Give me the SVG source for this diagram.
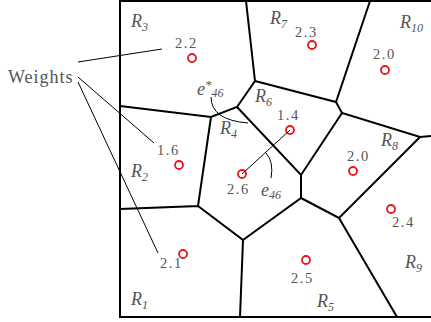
<svg xmlns="http://www.w3.org/2000/svg" width="431" height="322" viewBox="0 0 431 322">
<style>
.edge{fill:none;stroke:#000;stroke-width:2;stroke-linejoin:miter}
.seed{fill:none;stroke:#e8141e;stroke-width:1.8}
.w{font-family:"Liberation Serif",serif;font-size:14.5px;fill:#555;letter-spacing:1.5px}
.r{font-family:"Liberation Serif",serif;font-style:italic;font-size:18px;fill:#555}
.sub{font-size:12px}
.lead{fill:none;stroke:#000;stroke-width:1}
</style>
<rect width="431" height="322" fill="#fff"/>
<g id="edges">
<path class="edge" d="M431,1 H120 V317 H431"/>
<path class="edge" d="M120,106 L211,117 L237,107 L255,81 L246,1 M255,81 L336,102 L370,1 M336,102 L342,113 L420,137 L431,136 M342,113 L301,175 L237,107 M211,117 L198,206 L120,209 M198,206 L243,240 L240,317 M243,240 L301,198 L301,175 M301,198 L339,218 L420,137 M339,218 L397,317"/>
</g>
<g id="R1"><text class="r" x="131" y="305">R<tspan class="sub" dy="4">1</tspan></text><circle class="seed" cx="183" cy="254" r="4"/><text class="w" x="160" y="268">2.1</text></g>
<g id="R2"><text class="r" x="131" y="177">R<tspan class="sub" dy="4">2</tspan></text><circle class="seed" cx="179" cy="165" r="4"/><text class="w" x="157" y="155">1.6</text></g>
<g id="R3"><text class="r" x="131" y="27">R<tspan class="sub" dy="4">3</tspan></text><circle class="seed" cx="192" cy="58" r="4"/><text class="w" x="175" y="48">2.2</text></g>
<g id="R4"><text class="r" x="220" y="134">R<tspan class="sub" dy="4">4</tspan></text><circle class="seed" cx="242" cy="174" r="4"/><text class="w" x="227" y="194">2.6</text></g>
<g id="R5"><text class="r" x="317" y="307">R<tspan class="sub" dy="4">5</tspan></text><circle class="seed" cx="306" cy="260" r="4"/><text class="w" x="291" y="283">2.5</text></g>
<g id="R6"><text class="r" x="255" y="102">R<tspan class="sub" dy="4">6</tspan></text><circle class="seed" cx="290" cy="130" r="4"/><text class="w" x="277" y="120">1.4</text></g>
<g id="R7"><text class="r" x="270" y="24">R<tspan class="sub" dy="4">7</tspan></text><circle class="seed" cx="312" cy="45" r="4"/><text class="w" x="295" y="37">2.3</text></g>
<g id="R8"><text class="r" x="381" y="146">R<tspan class="sub" dy="4">8</tspan></text><circle class="seed" cx="353" cy="171" r="4"/><text class="w" x="347" y="161">2.0</text></g>
<g id="R9"><text class="r" x="405" y="268">R<tspan class="sub" dy="4">9</tspan></text><circle class="seed" cx="391" cy="209" r="4"/><text class="w" x="392" y="227">2.4</text></g>
<g id="R10"><text class="r" x="400" y="28">R<tspan class="sub" dy="4">10</tspan></text><circle class="seed" cx="385" cy="70" r="4"/><text class="w" x="373" y="59">2.0</text></g>
<g id="weights"><text x="8" y="83" style="font-family:'Liberation Serif',serif;font-size:18px;fill:#555;letter-spacing:1px">Weights</text></g>
<g id="connectors">
<path class="lead" d="M78,62 L162,49 M78,77 L154,143 M78,82 L158,253"/>
<path class="lead" d="M242,174 L290,130"/>
<path class="lead" d="M266,153 Q274,162 271,178"/>
<path class="lead" d="M211,97 Q211,120 248,123"/>
</g>
<g id="e46star"><text class="r" x="197" y="95" font-size="19">e<tspan dy="-6" font-size="13">*</tspan><tspan class="sub" dy="8">46</tspan></text></g>
<g id="e46"><text class="r" x="261" y="196" font-size="19">e<tspan class="sub" dy="3">46</tspan></text></g>
</svg>
